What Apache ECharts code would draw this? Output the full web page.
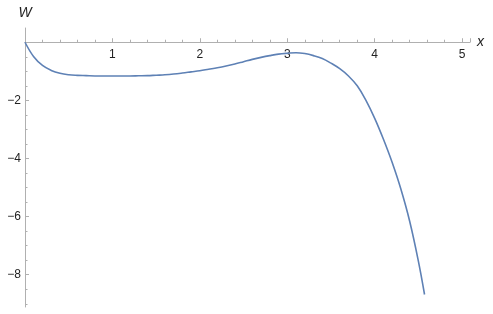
<!DOCTYPE html>
<html>
<head>
<meta charset="utf-8">
<script src="https://cdn.jsdelivr.net/npm/echarts@6/dist/echarts.min.js"></script>
<style>
html,body{margin:0;padding:0;background:#fff;}
#c{width:493px;height:314px;}
</style>
</head>
<body>
<div id="c"></div>
<script>
const xValues = [0, 0.1, 0.2, 0.3, 0.4, 0.5, 0.6, 0.7, 0.8, 0.9, 1.0, 1.1, 1.2, 1.3, 1.4, 1.5, 1.6, 1.7, 1.8, 1.9, 2.0, 2.1, 2.2, 2.3, 2.4, 2.5, 2.6, 2.7, 2.8, 2.9, 3.0, 3.1, 3.2, 3.3, 3.4, 3.5, 3.6, 3.7, 3.8, 3.9, 4.0, 4.1, 4.2, 4.3, 4.4, 4.5, 4.57];
const wValues = [0, -0.50, -0.80, -0.97, -1.07, -1.12, -1.14, -1.15, -1.16, -1.16, -1.16, -1.16, -1.16, -1.155, -1.15, -1.135, -1.12, -1.095, -1.06, -1.02, -0.98, -0.93, -0.88, -0.82, -0.75, -0.67, -0.59, -0.52, -0.46, -0.41, -0.38, -0.36, -0.39, -0.46, -0.56, -0.72, -0.91, -1.16, -1.50, -2.00, -2.62, -3.34, -4.14, -5.06, -6.16, -7.54, -8.68];
const xTickLabels = [1, 2, 3, 4, 5];
const yTickLabels = [-8, -6, -4, -2];
const yMinorTicks = [-9, -8.5, -7.5, -7, -6.5, -5.5, -5, -4.5, -3.5, -3, -2.5, -1.5, -1, -0.5];

const points = xValues.map((x, i) => [x, wValues[i]]);
const axisGray = '#b0b0b0';
const labelStyle = {color: '#222', fontSize: 12, fontFamily: 'Liberation Sans, Arial, sans-serif'};
const yMin = -9.11, yMax = 0.49, gridTop = 28, gridBottom = 7, H = 314;
const zeroPx = gridTop + (yMax / (yMax - yMin)) * (H - gridTop - gridBottom);
const xOffset = -((H - gridBottom) - zeroPx);

const chart = echarts.init(document.getElementById('c'), null, {renderer: 'canvas'});
chart.setOption({
  animation: false,
  grid: {left: 25, right: 23, top: gridTop, bottom: gridBottom},
  xAxis: {
    type: 'value',
    position: 'bottom',
    offset: xOffset,
    min: 0, max: 5.09, interval: 1,
    name: 'x', nameLocation: 'end', nameGap: 7,
    nameTextStyle: {fontStyle: 'italic', fontSize: 14, color: '#222', fontFamily: 'Liberation Sans, Arial, sans-serif', verticalAlign: 'middle'},
    axisLine: {onZero: false, lineStyle: {color: axisGray, width: 1}},
    axisTick: {show: true, inside: true, length: 4, lineStyle: {color: axisGray}},
    minorTick: {show: true, splitNumber: 5, length: 2.5, lineStyle: {color: axisGray}},
    axisLabel: {margin: 6, showMinLabel: false, formatter: v => (xTickLabels.includes(v) ? String(v) : ''), ...labelStyle},
    splitLine: {show: false}
  },
  yAxis: [{
    type: 'value',
    min: yMin, max: yMax,
    name: 'W', nameLocation: 'end', nameGap: 8,
    nameTextStyle: {fontStyle: 'italic', fontSize: 14, color: '#222', fontFamily: 'Liberation Sans, Arial, sans-serif', align: 'center'},
    axisLine: {show: true, onZero: false, lineStyle: {color: axisGray, width: 1}},
    axisTick: {show: true, inside: true, length: 4, lineStyle: {color: axisGray}, customValues: yTickLabels},
    axisLabel: {margin: 4, customValues: yTickLabels, formatter: v => String(v).replace('-', '\u2212'), ...labelStyle},
    splitLine: {show: false}
  }, {
    type: 'value',
    position: 'left',
    min: yMin, max: yMax,
    axisLine: {show: false},
    axisTick: {show: true, inside: true, length: 2.5, lineStyle: {color: axisGray}, customValues: yMinorTicks},
    axisLabel: {show: false},
    splitLine: {show: false}
  }],
  series: [{
    type: 'line',
    data: points,
    yAxisIndex: 0,
    smooth: 0.4,
    showSymbol: false,
    symbol: 'none',
    lineStyle: {color: '#5E81B5', width: 1.6},
    clip: false
  }]
});
</script>
</body>
</html>
